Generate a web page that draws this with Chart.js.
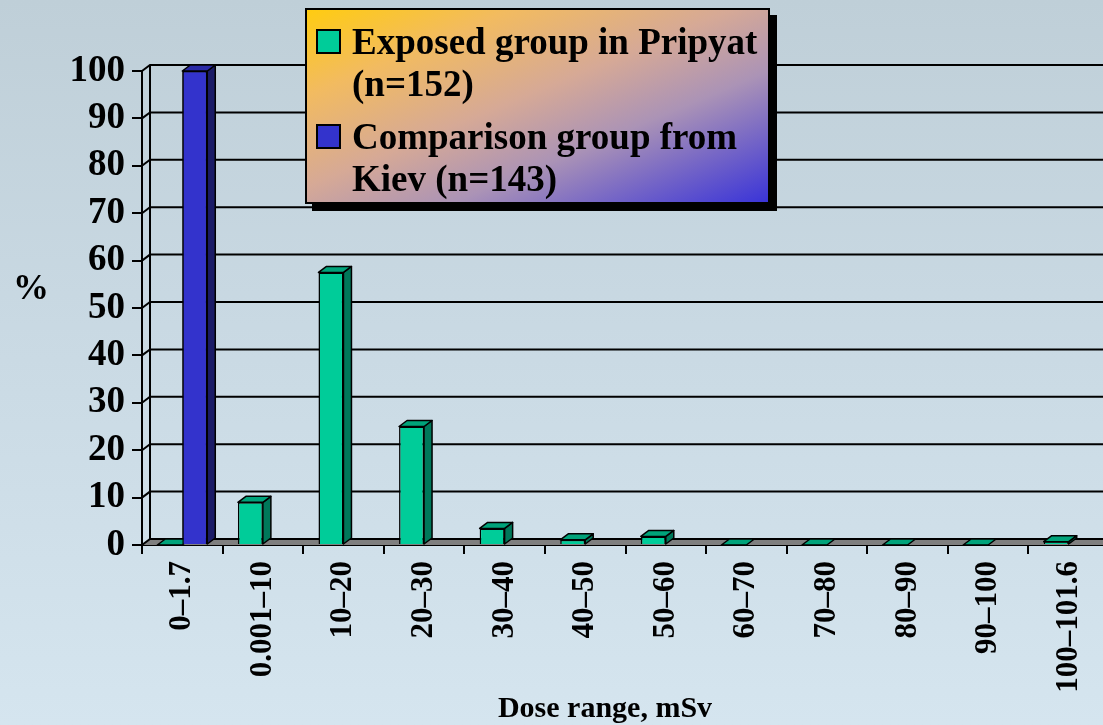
<!DOCTYPE html>
<html>
<head>
<meta charset="utf-8">
<script src="https://cdn.jsdelivr.net/npm/chart.js@4.4.1/dist/chart.umd.min.js"></script>
<style>
  html, body { margin: 0; padding: 0; }
  body {
    width: 1103px; height: 725px; overflow: hidden; position: relative;
    background: linear-gradient(to bottom, #bfcfd8 0%, #c9d9e3 45%, #d5e5ef 100%);
    font-family: "Liberation Serif", "Times New Roman", serif;
  }
  #chart { position: absolute; left: 0; top: 0; }
  #legend {
    position: absolute; left: 305px; top: 8px; width: 461px; height: 192px;
    border: 2px solid #000; box-shadow: 7px 7px 0 #000;
    background: linear-gradient(to bottom right, #ffcc11 0%, #f2bb60 22%, #d6a996 46%, #ab93b6 66%, #3a34d8 100%);
  }
  .item { position: absolute; left: 0; width: 461px; }
  .sw { position: absolute; left: 9px; top: 8px; width: 21px; height: 21px; border: 2px solid #000; }
  .tx { position: absolute; left: 45px; top: 0; width: 416px; font-weight: bold; font-size: 37px; line-height: 42px; color: #000; white-space: normal; }
  #ylab { position: absolute; left: 13px; top: 266px; font-weight: bold; font-size: 36px; color: #000; }
  #xlab { position: absolute; left: 0; width: 1210px; top: 690px; text-align: center; font-weight: bold; font-size: 30px; color: #000; }
</style>
</head>
<body>
<canvas id="chart" width="1109" height="725"></canvas>
<div id="legend"></div>
<div id="ylab">%</div>
<div id="xlab">Dose range, mSv</div>
<script>
const categories = ['0–1.7', '0.001–10', '10–20', '20–30', '30–40', '40–50', '50–60', '60–70', '70–80', '80–90', '90–100', '100–101.6'];
const seriesNames = ['Exposed group in Pripyat (n=152)', 'Comparison group from Kiev (n=143)'];
const pripyat = [0, 9, 57.5, 25, 3.5, 1.1, 1.8, 0, 0, 0, 0, 0.7];
const kiev = [100, null, null, null, null, null, null, null, null, null, null, null];
const yMin = 0, yMax = 100, yStep = 10;
const axisTitle = 'Dose range, mSv';
const yTitle = '%';

const FONT = '"Liberation Serif", "Times New Roman", serif';
const colors = [
  { front: '#00cc99', top: '#00a37a', side: '#00785a' },
  { front: '#3333cc', top: '#2a2aa6', side: '#1b1b66' }
];
const DX = 8, DY = -6;

function poly(ctx, pts, fill) {
  ctx.beginPath();
  ctx.moveTo(pts[0][0], pts[0][1]);
  for (let i = 1; i < pts.length; i++) ctx.lineTo(pts[i][0], pts[i][1]);
  ctx.closePath();
  ctx.fillStyle = fill; ctx.fill();
  ctx.stroke();
}

function drawFaces(chart, di) {
  const ctx = chart.ctx;
  const meta = chart.getDatasetMeta(di);
  const data = chart.data.datasets[di].data;
  ctx.save();
  ctx.strokeStyle = '#000'; ctx.lineWidth = 1.5; ctx.lineJoin = 'round';
  meta.data.forEach((bar, j) => {
    if (data[j] === null || data[j] === undefined) return;
    const p = bar.getProps(['x', 'y', 'base', 'width'], true);
    const l = p.x - p.width / 2, r = p.x + p.width / 2;
    if (p.base - p.y > 0.5) {
      poly(ctx, [[r, p.y], [r + DX, p.y + DY], [r + DX, p.base + DY], [r, p.base]], colors[di].side);
    }
    poly(ctx, [[l, p.y], [l + DX, p.y + DY], [r + DX, p.y + DY], [r, p.y]], colors[di].top);
  });
  ctx.restore();
}

const threeD = {
  id: 'threeD',
  beforeDatasetsDraw(chart) {
    const { ctx, chartArea: a, scales: { y } } = chart;
    const y0 = y.getPixelForValue(0);
    ctx.save();
    ctx.fillStyle = '#7f7f7f';
    ctx.beginPath();
    ctx.moveTo(a.left, y0); ctx.lineTo(a.left + DX, y0 + DY);
    ctx.lineTo(a.right + DX, y0 + DY); ctx.lineTo(a.right + DX, y0);
    ctx.closePath(); ctx.fill();
    ctx.strokeStyle = '#000'; ctx.lineWidth = 2;
    y.ticks.forEach(t => {
      const py = y.getPixelForValue(t.value);
      ctx.beginPath();
      ctx.moveTo(a.left, py); ctx.lineTo(a.left + DX, py + DY); ctx.lineTo(a.right + DX, py + DY);
      ctx.stroke();
    });
    ctx.beginPath();
    ctx.moveTo(a.left + DX, y0 + DY); ctx.lineTo(a.left + DX, y.getPixelForValue(yMax) + DY);
    ctx.stroke();
    ctx.restore();
  },
  afterDatasetsDraw(chart) {
    drawFaces(chart, 0);
    const meta1 = chart.getDatasetMeta(1);
    const d1 = chart.data.datasets[1].data;
    meta1.data.forEach((bar, j) => { if (d1[j] !== null) bar.draw(chart.ctx, chart.chartArea); });
    drawFaces(chart, 1);
  }
};

const chart = new Chart(document.getElementById('chart'), {
  type: 'bar',
  data: {
    labels: categories,
    datasets: [
      { label: seriesNames[0], data: pripyat, backgroundColor: colors[0].front, borderColor: '#000', borderWidth: 1.5, borderSkipped: 'start', categoryPercentage: 0.62, barPercentage: 1 },
      { label: seriesNames[1], data: kiev, backgroundColor: colors[1].front, borderColor: '#000', borderWidth: 1.5, borderSkipped: 'start', categoryPercentage: 0.62, barPercentage: 1 }
    ]
  },
  options: {
    responsive: false,
    animation: false,
    layout: { padding: { top: 71, right: 0, left: 0, bottom: 0 } },
    plugins: { legend: { display: false }, tooltip: { enabled: false } },
    scales: {
      x: {
        grid: { display: true, drawOnChartArea: false, drawTicks: true, tickLength: 9, color: '#000', lineWidth: 2, offset: true },
        border: { display: true, color: '#000', width: 2 },
        ticks: { font: { family: FONT, size: 31, weight: 'bold' }, color: '#000', minRotation: 90, maxRotation: 90, autoSkip: false, padding: 7 },
        title: { display: false, text: axisTitle },
        afterFit: s => { s.height = 180; s.paddingRight = 0; s.paddingLeft = 0; }
      },
      y: {
        min: yMin, max: yMax,
        ticks: { stepSize: yStep, font: { family: FONT, size: 37, weight: 'bold' }, color: '#000', padding: 7 },
        grid: { display: true, drawOnChartArea: false, drawTicks: true, tickLength: 10, color: '#000', lineWidth: 2 },
        border: { display: true, color: '#000', width: 2 },
        afterFit: s => { s.width = 142; }
      }
    }
  },
  plugins: [threeD]
});

// HTML legend from the dataset labels
const lg = document.getElementById('legend');
const tops = [11, 106];
chart.data.datasets.forEach((ds, i) => {
  const it = document.createElement('div');
  it.className = 'item'; it.style.top = tops[i] + 'px';
  const sw = document.createElement('div'); sw.className = 'sw'; sw.style.background = ds.backgroundColor;
  const tx = document.createElement('div'); tx.className = 'tx'; tx.textContent = ds.label;
  it.appendChild(sw); it.appendChild(tx); lg.appendChild(it);
});
document.getElementById('ylab').textContent = yTitle;
document.getElementById('xlab').textContent = axisTitle;
</script>
</body>
</html>
